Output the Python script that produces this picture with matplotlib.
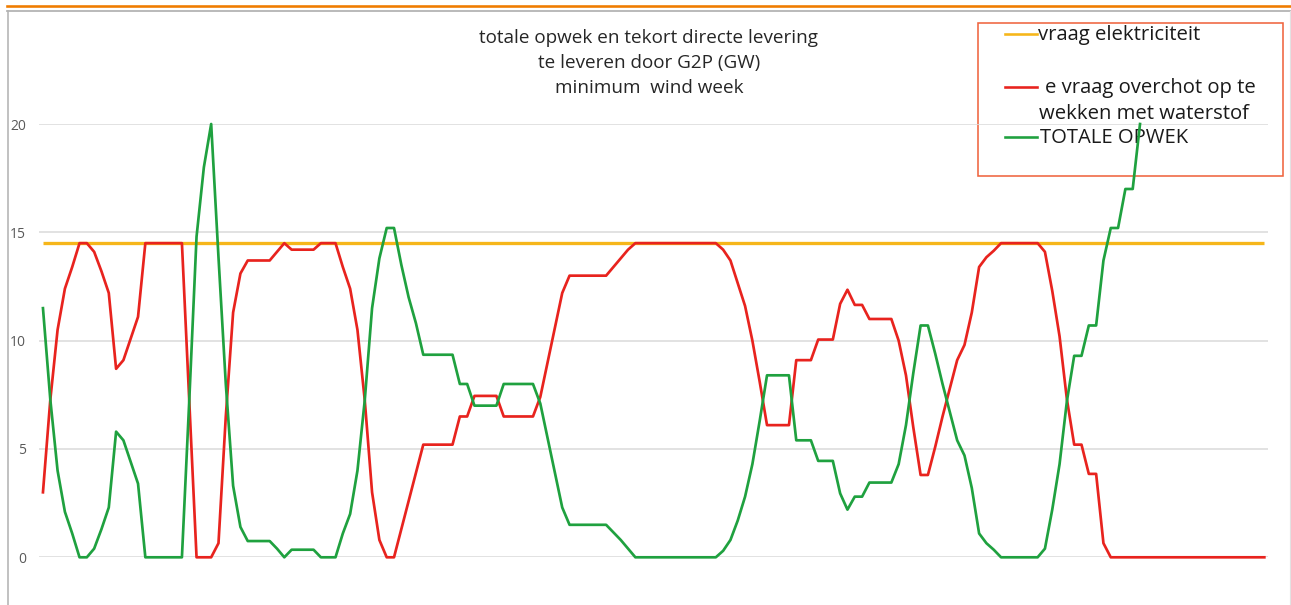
import numpy as np
import matplotlib
matplotlib.use("Agg")
import matplotlib.pyplot as plt
from matplotlib.lines import Line2D
from matplotlib.patches import Rectangle

plt.rcParams['font.family'] = ['Open Sans', 'DejaVu Sans']

# hourly values for one week (GW)
hours = list(range(1, 169))
demand_gw = 14.5

shortfall_gw = [
    3.0, 7.25, 10.5, 12.4, 13.4, 14.5, 14.5, 14.1, 13.2, 12.2,
    8.7, 9.1, 10.1, 11.1, 14.5, 14.5, 14.5, 14.5, 14.5, 14.5,
    7.3, 0.0, 0.0, 0.0, 0.65, 6.5, 11.3, 13.1, 13.7, 13.7,
    13.7, 13.7, 14.1, 14.5, 14.2, 14.2, 14.2, 14.2, 14.5, 14.5,
    14.5, 13.4, 12.4, 10.5, 7.25, 3.0, 0.8, 0.0, 0.0, 1.3,
    2.6, 3.9, 5.2, 5.2, 5.2, 5.2, 5.2, 6.5, 6.5, 7.45,
    7.45, 7.45, 7.45, 6.5, 6.5, 6.5, 6.5, 6.5, 7.4, 9.0,
    10.6, 12.2, 13.0, 13.0, 13.0, 13.0, 13.0, 13.0, 13.4, 13.8,
    14.2, 14.5, 14.5, 14.5, 14.5, 14.5, 14.5, 14.5, 14.5, 14.5,
    14.5, 14.5, 14.5, 14.2, 13.7, 12.65, 11.6, 10.0, 8.1, 6.1,
    6.1, 6.1, 6.1, 9.1, 9.1, 9.1, 10.05, 10.05, 10.05, 11.7,
    12.35, 11.65, 11.65, 11.0, 11.0, 11.0, 11.0, 10.0, 8.4, 6.0,
    3.8, 3.8, 5.1, 6.5, 7.8, 9.1, 9.8, 11.3, 13.4, 13.85,
    14.15, 14.5, 14.5, 14.5, 14.5, 14.5, 14.5, 14.1, 12.3, 10.2,
    7.3, 5.2, 5.2, 3.85, 3.85, 0.65, 0.0, 0.0, 0.0, 0.0,
    0.0, 0.0, 0.0, 0.0, 0.0, 0.0, 0.0, 0.0, 0.0, 0.0,
    0.0, 0.0, 0.0, 0.0, 0.0, 0.0, 0.0, 0.0,
]

total_gw = [
    11.5, 7.3, 4.0, 2.1, 1.1, 0.0, 0.0, 0.4, 1.3, 2.3,
    5.8, 5.4, 4.4, 3.4, 0.0, 0.0, 0.0, 0.0, 0.0, 0.0,
    7.2, 14.8, 18.0, 20.0, 13.85, 8.0, 3.3, 1.4, 0.75, 0.75,
    0.75, 0.75, 0.4, 0.0, 0.35, 0.35, 0.35, 0.35, 0.0, 0.0,
    0.0, 1.1, 2.0, 4.0, 7.25, 11.5, 13.8, 15.2, 15.2, 13.5,
    12.0, 10.8, 9.35, 9.35, 9.35, 9.35, 9.35, 8.0, 8.0, 7.0,
    7.0, 7.0, 7.0, 8.0, 8.0, 8.0, 8.0, 8.0, 7.1, 5.5,
    3.9, 2.3, 1.5, 1.5, 1.5, 1.5, 1.5, 1.5, 1.15, 0.8,
    0.4, 0.0, 0.0, 0.0, 0.0, 0.0, 0.0, 0.0, 0.0, 0.0,
    0.0, 0.0, 0.0, 0.3, 0.8, 1.7, 2.8, 4.3, 6.3, 8.4,
    8.4, 8.4, 8.4, 5.4, 5.4, 5.4, 4.45, 4.45, 4.45, 2.95,
    2.2, 2.8, 2.8, 3.45, 3.45, 3.45, 3.45, 4.3, 6.1, 8.5,
    10.7, 10.7, 9.4, 8.0, 6.7, 5.4, 4.7, 3.2, 1.1, 0.65,
    0.35, 0.0, 0.0, 0.0, 0.0, 0.0, 0.0, 0.4, 2.2, 4.3,
    7.2, 9.3, 9.3, 10.7, 10.7, 13.7, 15.2, 15.2, 17.0, 17.0,
    20.0,
]

y_ticks = [0, 5, 10, 15, 20]

title_lines = [
    "totale opwek en tekort directe levering",
    "te leveren door G2P (GW)",
    "minimum  wind week",
]
legend_labels = [
    ["vraag elektriciteit"],
    ["e vraag overchot op te", "wekken met waterstof"],
    ["TOTALE OPWEK"],
]

C_DEMAND = "#F6B61A"
C_SHORT = "#E8231E"
C_TOTAL = "#1FA13F"

W, H = 1291, 605
fig = plt.figure(figsize=(W / 100, H / 100), dpi=100)


def fx(x):
    return x / W


def fy(y):
    return 1 - y / H


def lw(px):
    return px * 0.72


ax = fig.add_axes([fx(39.3), fy(557.3), fx(1268) - fx(39.3), fy(124) - fy(557.3)])
ax.set_facecolor("none")

ax.plot(hours, [demand_gw] * len(hours), color=C_DEMAND, lw=lw(3.3),
        clip_on=False, zorder=2, solid_capstyle="butt")
ax.plot(hours, shortfall_gw, color=C_SHORT, lw=lw(2.7), clip_on=False,
        zorder=3, solid_joinstyle="round")
ax.plot(hours[:len(total_gw)], total_gw, color=C_TOTAL, lw=lw(2.7),
        clip_on=False, zorder=4, solid_joinstyle="round")

ax.set_xlim(hours[0] - 0.5, hours[-1] + 0.5)
ax.set_ylim(0, 20)
ax.set_xticks([])
ax.set_yticks(y_ticks)
ax.tick_params(axis="y", length=0, pad=9.5, labelsize=10, labelcolor="#595959")
ax.yaxis.grid(True, color="#DCDCDC", lw=lw(1.6))
ax.set_axisbelow(True)
for s in ax.spines.values():
    s.set_visible(False)

# outer frame
fig.add_artist(Line2D([fx(7), fx(W)], [fy(6.2), fy(6.2)], color="#F07C00", lw=lw(2.6)))
fig.add_artist(Line2D([fx(7), fx(W)], [fy(11), fy(11)], color="#B4B4B4", lw=lw(1.8)))
fig.add_artist(Line2D([fx(7.8), fx(7.8)], [fy(11), fy(H)], color="#B4B4B4", lw=lw(1.6)))
fig.add_artist(Line2D([fx(1290), fx(1290)], [fy(11), fy(H)], color="#E2E2E2", lw=lw(1.2)))

# title
for k, line in enumerate(title_lines):
    fig.text(fx(649), fy(38 + 25 * k), line, ha="center", va="center",
             fontsize=13.6, color="#262626", zorder=-1)

# legend box
fig.add_artist(Rectangle((fx(978), fy(175.7)), fx(1283) - fx(978), fy(22.7) - fy(175.7),
                         fill=False, edgecolor="#F0653F", lw=lw(1.6), zorder=-1))
entries = [
    (C_DEMAND, 33.5, [(1038, 35)]),
    (C_SHORT, 86.5, [(1045, 88)]),
    (C_TOTAL, 137, [(1040, 138)]),
]
# second line of the red entry sits under the first
entries[1][2].append((1039, 114))
for (color, ly, spots), labels in zip(entries, legend_labels):
    fig.add_artist(Line2D([fx(1005), fx(1037)], [fy(ly), fy(ly)], color=color,
                          lw=lw(2.6), zorder=-1))
    for (tx, ty), lab in zip(spots, labels):
        fig.text(fx(tx), fy(ty), lab, ha="left", va="center", fontsize=14.6,
                 color="#1A1A1A", zorder=-1)

fig.savefig("out.png", dpi=100)
